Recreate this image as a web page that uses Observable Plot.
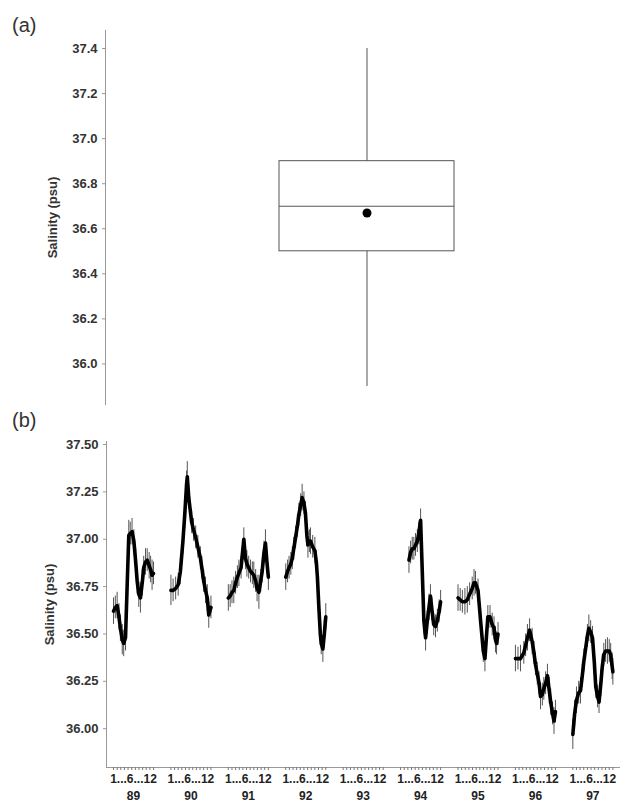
<!DOCTYPE html>
<html><head><meta charset="utf-8">
<script src="https://cdn.jsdelivr.net/npm/d3@7"></script>
<script src="https://cdn.jsdelivr.net/npm/@observablehq/plot@0.6"></script>
<style>
body{margin:0;background:#fff;font-family:"Liberation Sans",Arial,sans-serif;}
#wrap{position:relative;width:622px;height:805px;overflow:hidden;}
.panel{position:absolute;left:0;}
.lab{position:absolute;left:12px;font-size:20px;line-height:1;color:#333;}
</style></head><body>
<div id="wrap">
 <div id="pa" class="panel" style="top:0"></div>
 <div id="pb" class="panel" style="top:405px"></div>
 <div class="lab" style="top:15px">(a)</div>
 <div class="lab" style="top:410px">(b)</div>
</div>
<script>
// ---- Panel (a): box plot summary ----
const boxLabel  = ["Salinity"];
const boxMin    = [35.9];
const boxQ1     = [36.5];
const boxMedian = [36.7];
const boxQ3     = [36.9];
const boxMax    = [37.4];
const boxMean   = [36.67];
const yTicksA   = [36.0, 36.2, 36.4, 36.6, 36.8, 37.0, 37.2, 37.4];

// ---- Panel (b): salinity time series [month, value, error] ----
const years = ["89","90","91","92","93","94","95","96","97"];
const monthLabel = "1...6...12";
const yTicksB = [36.00, 36.25, 36.50, 36.75, 37.00, 37.25, 37.50];
const s89 = [[1,36.62,.07],[1.5,36.64,.06],[2,36.65,.07],[2.5,36.59,.07],[2.9,36.53,.07],[3.4,36.47,.08],[3.8,36.45,.07],[4.3,36.48,.07],[4.76,36.76,.08],[5.2,37.02,.08],[5.6,37.03,.06],[6.1,37.04,.07],[6.6,36.99,.06],[7.1,36.88,.07],[7.5,36.78,.07],[7.95,36.71,.07],[8.4,36.69,.08],[8.9,36.77,.07],[9.3,36.85,.06],[9.8,36.88,.07],[10.26,36.89,.06],[10.8,36.86,.07],[11.2,36.84,.07],[11.6,36.81,.08],[12,36.82,.06]];
const s90 = [[1,36.73,.08],[1.6,36.73,.06],[2.3,36.74,.06],[3,36.76,.06],[3.6,36.83,.07],[4.3,36.99,.07],[4.8,37.13,.07],[5.3,37.29,.07],[5.5,37.33,.08],[5.9,37.22,.06],[6.7,37.09,.06],[7.2,37.05,.06],[7.8,37.01,.06],[8.4,36.96,.06],[9.1,36.90,.06],[9.5,36.85,.06],[10,36.78,.06],[10.5,36.73,.07],[11,36.69,.07],[11.4,36.60,.07],[12,36.64,.06]];
const s91 = [[1,36.69,.07],[1.5,36.70,.06],[2,36.72,.06],[2.5,36.73,.07],[3,36.77,.06],[3.5,36.80,.06],[3.9,36.82,.07],[4.5,36.85,.06],[4.9,36.93,.06],[5.26,37.00,.06],[5.7,36.90,.06],[6.1,36.87,.07],[6.6,36.85,.06],[7.1,36.83,.06],[7.6,36.82,.06],[8,36.81,.07],[8.5,36.78,.06],[8.9,36.74,.07],[9.4,36.72,.09],[9.9,36.78,.06],[10.3,36.83,.06],[10.8,36.93,.06],[11.2,36.98,.07],[11.6,36.88,.06],[12,36.80,.07]];
const s92 = [[1,36.80,.07],[1.5,36.83,.06],[1.9,36.85,.06],[2.4,36.87,.06],[2.8,36.90,.06],[3.2,36.95,.06],[3.7,37.01,.06],[4.2,37.07,.06],[4.6,37.13,.06],[5.1,37.18,.06],[5.5,37.22,.07],[6,37.19,.06],[6.4,37.14,.06],[6.8,37.02,.06],[7.1,36.97,.07],[7.5,36.99,.06],[7.8,36.99,.07],[8.4,36.96,.06],[9,36.94,.07],[9.4,36.88,.06],[9.7,36.80,.06],[10.1,36.64,.06],[10.5,36.50,.06],[10.75,36.45,.06],[11.2,36.42,.07],[11.6,36.50,.07],[12,36.59,.07]];
const s93 = [];
const s94 = [[3.3,36.89,.07],[3.75,36.93,.06],[4.2,36.95,.06],[4.65,36.95,.06],[5.1,36.97,.06],[5.6,36.99,.06],[6,37.03,.06],[6.5,37.10,.06],[6.96,36.83,.06],[7.4,36.57,.07],[7.87,36.48,.07],[8.3,36.56,.06],[8.8,36.64,.07],[9.2,36.70,.06],[9.6,36.63,.06],[10.1,36.55,.06],[10.6,36.54,.06],[11.1,36.57,.06],[11.6,36.62,.06],[12,36.67,.06]];
const s95 = [[1,36.69,.07],[1.6,36.68,.06],[2.2,36.67,.06],[2.9,36.67,.07],[3.55,36.68,.07],[4.2,36.71,.06],[4.9,36.74,.06],[5.4,36.77,.07],[5.8,36.77,.06],[6.5,36.73,.06],[7.2,36.57,.06],[7.95,36.41,.06],[8.4,36.37,.07],[8.8,36.48,.06],[9.2,36.59,.06],[9.8,36.59,.06],[10.4,36.55,.06],[10.9,36.53,.06],[11.3,36.47,.07],[11.6,36.45,.06],[12,36.50,.06]];
const s96 = [[1,36.37,.07],[1.7,36.37,.06],[2.4,36.37,.07],[3.3,36.40,.06],[3.8,36.44,.06],[4.3,36.48,.07],[4.9,36.52,.06],[5.6,36.46,.07],[6.1,36.40,.06],[6.5,36.34,.06],[7,36.29,.06],[7.5,36.24,.06],[7.9,36.17,.07],[8.4,36.18,.06],[8.8,36.21,.06],[9.3,36.24,.06],[9.8,36.28,.06],[10.3,36.20,.07],[10.7,36.14,.07],[11.2,36.08,.06],[11.6,36.04,.07],[12,36.09,.06]];
const s97 = [[1,35.97,.08],[1.5,36.08,.07],[2,36.15,.07],[2.6,36.19,.06],[3.1,36.20,.07],[3.6,36.28,.06],[4.05,36.36,.06],[4.5,36.42,.06],[5,36.49,.06],[5.4,36.53,.07],[5.9,36.51,.06],[6.4,36.48,.06],[6.9,36.35,.06],[7.3,36.22,.06],[7.8,36.17,.06],[8.2,36.14,.06],[8.7,36.24,.07],[9.1,36.33,.06],[9.5,36.39,.06],[10,36.41,.06],[10.5,36.41,.07],[11,36.41,.06],[11.4,36.39,.06],[11.8,36.33,.07],[12,36.30,.07]];
const series = [s89, s90, s91, s92, s93, s94, s95, s96, s97];

// layout helpers (not data)
const SPAN = 0.697;             // share of a year slot occupied by months 1..12
const xOf = (i, m) => i + (m - 1) / 11 * SPAN;
const font = "'Liberation Sans', Arial, sans-serif";

const boxData = boxLabel.map((k, i) => ({k, min: boxMin[i], q1: boxQ1[i], median: boxMedian[i], q3: boxQ3[i], max: boxMax[i], mean: boxMean[i]}));

const pa = Plot.plot({
  width: 622, height: 405,
  marginLeft: 105, marginRight: 0, marginTop: 30, marginBottom: 1,
  style: {fontFamily: font, fontSize: "13px", color: "#333", background: "transparent"},
  x: {type: "band", domain: boxLabel, paddingInner: 0, paddingOuter: 0.977, align: 0.509, axis: null},
  y: {domain: [35.82, 37.48]},
  marks: [
    Plot.frame({anchor: "left", stroke: "#999"}),
    Plot.axisY({ticks: yTicksA, tickFormat: d => d.toFixed(1), tickSize: 3, tickPadding: 5,
      stroke: "#999", fill: "#333", fontWeight: "bold", fontSize: 13,
      label: "Salinity (psu)", labelAnchor: "center", labelOffset: 58, labelArrow: "none"}),
    Plot.ruleX(boxData, {x: "k", y1: "min", y2: "max", stroke: "#555", strokeWidth: 1}),
    Plot.barY(boxData, {x: "k", y1: "q1", y2: "q3", fill: "white", stroke: "#555", strokeWidth: 1}),
    Plot.tickY(boxData, {x: "k", y: "median", stroke: "#555", strokeWidth: 1}),
    Plot.dot(boxData, {x: "k", y: "mean", r: 4.5, fill: "black", stroke: "none"})
  ]
});
document.getElementById("pa").appendChild(pa);

const data = series.flatMap((arr, i) => arr.map(([m, v, e]) => ({year: years[i], x: xOf(i, m), v, e})));
const monthTicks = years.flatMap((y, i) => d3.range(1, 13).map(m => xOf(i, m)));
const XMIN = -0.122, XMAX = 8.83, YMIN = 35.795, YMAX = 37.516;

const pb = Plot.plot({
  width: 622, height: 400,
  marginLeft: 106, marginRight: 2, marginTop: 36, marginBottom: 38,
  style: {fontFamily: font, fontSize: "13px", color: "#333", background: "transparent"},
  x: {domain: [XMIN, XMAX]},
  y: {domain: [YMIN, YMAX]},
  marks: [
    Plot.ruleY([YMIN], {stroke: "#999"}),
    Plot.ruleX([XMIN], {stroke: "#999"}),
    Plot.axisY({ticks: yTicksB, tickFormat: d => d.toFixed(2), tickSize: 3, tickPadding: 5,
      stroke: "#999", fill: "#333", fontWeight: "bold", fontSize: 13,
      label: "Salinity (psu)", labelAnchor: "center", labelOffset: 62, labelArrow: "none"}),
    Plot.axisX({ticks: monthTicks, tickSize: 3, tickFormat: () => "", label: null, stroke: "#777"}),
    Plot.ruleX(data, {x: "x", y1: d => d.v - d.e, y2: d => d.v + d.e, stroke: "#555", strokeWidth: 1}),
    Plot.line(data, {x: "x", y: "v", z: "year", stroke: "black", strokeWidth: 3.6}),
    Plot.text(years, {x: (d, i) => i + SPAN / 2, frameAnchor: "bottom", dy: 15, text: () => monthLabel,
      fill: "#222", fontWeight: "bold", fontSize: 12}),
    Plot.text(years, {x: (d, i) => i + SPAN / 2, frameAnchor: "bottom", dy: 32, text: d => d,
      fill: "#222", fontWeight: "bold", fontSize: 12})
  ]
});
document.getElementById("pb").appendChild(pb);
</script>
</body></html>
